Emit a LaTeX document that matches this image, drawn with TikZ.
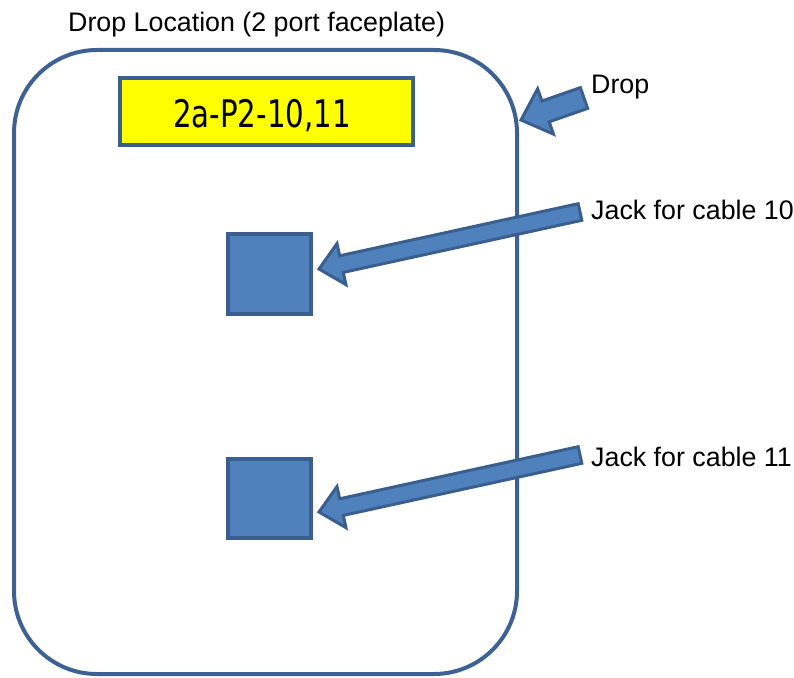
\documentclass[tikz,border=0pt]{standalone}
\usepackage{fontspec}
\usepackage{graphicx}
\setmainfont{Liberation Sans}
\newfontfamily\tagfont{DejaVu Sans}
\usetikzlibrary{calc}
\definecolor{frameblue}{HTML}{3D6192}
\definecolor{fillblue}{HTML}{4F81BD}
\definecolor{edgeblue}{HTML}{3A5F8F}
\definecolor{tagyellow}{HTML}{FFFF00}
\newcommand\blockarrow[5]{% tail, tip, shaft half, head half, head length
  \draw[arrowshape]
    ($(#1)!#3!90:(#2)$) --
    ($($(#2)!#5!(#1)$)!#3!90:(#2)$) --
    ($($(#2)!#5!(#1)$)!#4!90:(#2)$) --
    (#2) --
    ($($(#2)!#5!(#1)$)!#4!-90:(#2)$) --
    ($($(#2)!#5!(#1)$)!#3!-90:(#2)$) --
    ($(#1)!#3!-90:(#2)$) -- cycle;}
\begin{document}
\begin{tikzpicture}[x=1pt,y=-1pt,
  plate/.style={draw=frameblue,line width=4pt,rounded corners=83pt},
  jack/.style={draw=edgeblue,fill=fillblue,line width=4pt},
  tagbox/.style={draw=edgeblue,fill=tagyellow,line width=4pt},
  arrowshape/.style={draw=edgeblue,fill=fillblue,line width=3pt,line join=miter},
  caption/.style={inner sep=0pt,font=\fontsize{26.8}{30}\selectfont}]
\useasboundingbox (0,0) rectangle (794,677);
% faceplate
\draw[plate] (14,50) rectangle (517,674);
\node[caption,anchor=base west] (title) at (68,32) {Drop Location (2 port faceplate)};
% tag
\draw[tagbox] (120,78) rectangle (413,145);
\node[inner sep=0pt,anchor=base] (tag) at (262,127)
  {\scalebox{0.77}[1]{\tagfont\fontsize{38}{40}\selectfont 2a-P2-10,11}};
% jacks
\draw[jack] (228,234) rectangle (311,314);
\coordinate (j1) at (311,274);
\draw[jack] (228,459) rectangle (311,538);
\coordinate (j2) at (311,498);
% labels
\node[caption,anchor=base west] (drop) at (591,93) {Drop};
\node[caption,anchor=base west] (l10) at (591,219) {Jack for cable 10};
\node[caption,anchor=base west] (l11) at (591,466) {Jack for cable 11};
% arrows
\coordinate (dt) at (584,98);
\coordinate (dp) at (521,120);
\coordinate (t10) at (580,212);
\coordinate (p10) at (319,269);
\coordinate (t11) at (580,455);
\coordinate (p11) at (319,512);
\blockarrow{dt}{dp}{11pt}{24pt}{26pt}
\blockarrow{t10}{p10}{8.5pt}{21pt}{23pt}
\blockarrow{t11}{p11}{8.5pt}{21pt}{23pt}
\end{tikzpicture}
\end{document}
